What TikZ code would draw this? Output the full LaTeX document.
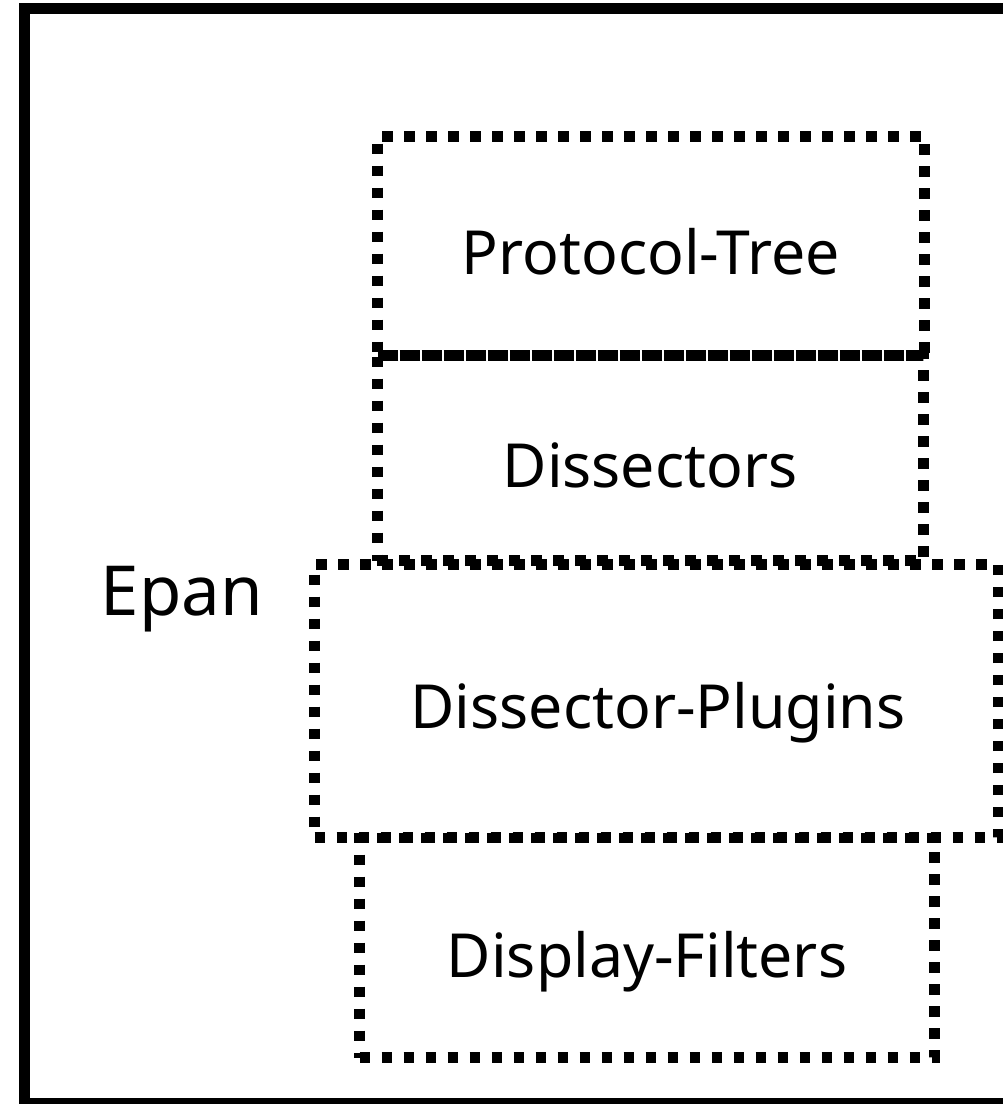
\documentclass[tikz,border=0pt]{standalone}
\usepackage{fontspec}
\setmainfont{Noto Sans}
\begin{document}
\begin{tikzpicture}[x=1pt,y=-1pt,
  dotbox/.style={draw=black, line width=10.5pt, dash pattern=on 10.5pt off 11.5pt,
                 rectangle, inner sep=0pt, outer sep=0pt},
  boxlabel/.style={anchor=base, inner sep=0pt, font=\fontsize{60.8}{72}\selectfont},
  layerlabel/.style={anchor=base, inner sep=0pt, font=\fontsize{69}{80}\selectfont}]
  \useasboundingbox (0,0) rectangle (1003,1104);
  \clip (0,0) rectangle (1003,1104);

  % outer frame of the library
  \node[draw=black, line width=11pt, rectangle, inner sep=0pt,
        minimum width=1000pt, minimum height=1095pt] (epanframe) at (524.5,556) {};
  \node[layerlabel] (epan) at (182,615) {Epan};

  % component boxes
  \node[dotbox, minimum width=547pt, minimum height=219pt] (ptree) at (651,246) {};
  \node[dotbox, minimum width=546pt, minimum height=205pt] (dissectors) at (650.25,458) {};
  \node[dotbox, minimum width=683.5pt, minimum height=273pt] (plugins) at (656.25,701) {};
  \node[dotbox, minimum width=575pt, minimum height=219.5pt] (filters) at (647,947.75) {};

  % component names
  \node[boxlabel] (ptreetext) at (651,274) {Protocol-Tree};
  \node[boxlabel] (dissectorstext) at (650,487) {Dissectors};
  \node[boxlabel] (pluginstext) at (658,728) {Dissector-Plugins};
  \node[boxlabel] (filterstext) at (647,977) {Display-Filters};
\end{tikzpicture}
\end{document}
